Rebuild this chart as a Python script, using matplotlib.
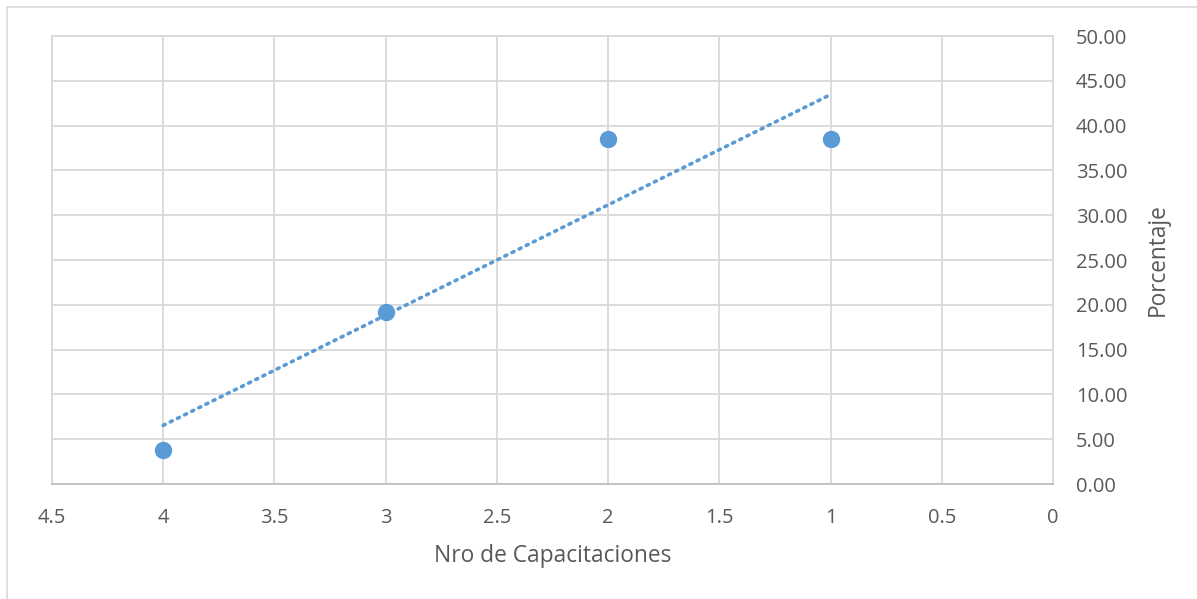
import matplotlib
matplotlib.use("Agg")
import matplotlib.pyplot as plt
import numpy as np
from matplotlib.patches import Rectangle

capacitaciones = [4, 3, 2, 1]
porcentaje = [3.85, 19.23, 38.46, 38.46]
x_ticks = [4.5, 4, 3.5, 3, 2.5, 2, 1.5, 1, 0.5, 0]
y_ticks = [0, 5, 10, 15, 20, 25, 30, 35, 40, 45, 50]

blue = "#5B9BD5"
grid_c = "#D9D9D9"
text_c = "#595959"

plt.rcParams['font.family'] = ['Open Sans', 'DejaVu Sans']

fig = plt.figure(figsize=(11.97, 5.99), dpi=100)
fig.patches.append(Rectangle((7/1197, -0.1), 1.2, (599-7)/599 + 0.1, transform=fig.transFigure,
                             fill=False, edgecolor=grid_c, linewidth=1.2))
ax = fig.add_axes([52/1197, (599-484)/599, (1053-52)/1197, (484-36)/599])

ax.set_xlim(4.5, 0)
ax.set_ylim(0, 50)
ax.set_xticks(x_ticks)
ax.set_xticklabels([f"{t:g}" for t in x_ticks])
ax.set_yticks(y_ticks)
ax.set_yticklabels([f"{t:.2f}" for t in y_ticks])
ax.yaxis.tick_right()
ax.yaxis.set_label_position("right")
ax.grid(True, color=grid_c, linewidth=1.3)
ax.set_axisbelow(True)
for s in ax.spines.values():
    s.set_color(grid_c)
    s.set_linewidth(1.3)
ax.spines['bottom'].set_color("#BFBFBF")
ax.tick_params(length=0, labelsize=14.5, colors=text_c, pad=17)
ax.tick_params(axis='y', pad=16.5)

# linear trendline
coef = np.polyfit(capacitaciones, porcentaje, 1)
xt = np.array([max(capacitaciones), min(capacitaciones)])
ax.plot(xt, np.polyval(coef, xt), linestyle=(0, (0.6, 1.6)), color=blue,
        linewidth=2.6, dash_capstyle='round', zorder=2)
ax.plot(capacitaciones, porcentaje, 'o', color=blue, markersize=11.5, zorder=3)

ax.set_xlabel("Nro de Capacitaciones", fontsize=16.4, color=text_c, labelpad=12)
ax.set_ylabel("Porcentaje", fontsize=16.3, color=text_c, labelpad=13)

fig.savefig("out.png", dpi=100)
